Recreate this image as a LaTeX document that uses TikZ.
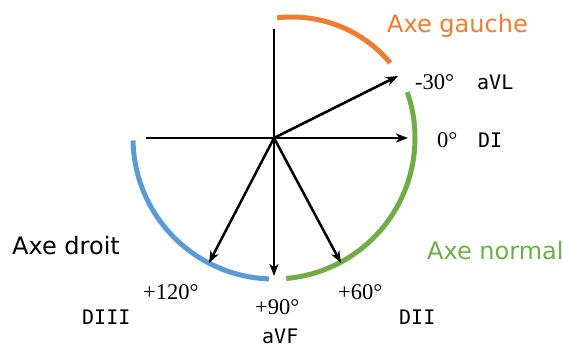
\documentclass[tikz,border=0pt]{standalone}
\usepackage{fontspec}
\setmainfont{Liberation Serif}
\newfontfamily\labfont{DejaVu Sans}
\newfontfamily\leadfont{DejaVu Sans Mono}
\usetikzlibrary{arrows.meta}
\definecolor{axorange}{HTML}{ED7D31}
\definecolor{axblue}{HTML}{5B9BD5}
\definecolor{axgreen}{HTML}{70AD47}
\tikzset{
  axisline/.style={line width=2.5pt, black},
  vec/.style={line width=2.5pt, black, -{Stealth[length=12pt,width=9pt,inset=3.5pt]}},
  arcline/.style={line width=5pt},
  deg/.style={inner sep=0pt, anchor=base west, font=\fontsize{22.5}{24}\selectfont},
  lead/.style={inner sep=0pt, anchor=base west, font=\leadfont\fontsize{20}{22}\selectfont},
  axlabel/.style={inner sep=0pt, anchor=base west, font=\labfont\fontsize{24}{26}\selectfont},
}
\begin{document}
\begin{tikzpicture}[x=1pt,y=1pt]
\useasboundingbox (0,0) rectangle (563,350);
\coordinate (C) at (274,212);
\coordinate (top) at (274,321);
\coordinate (left) at (146,212);
\coordinate (t0) at (408,212);
\coordinate (tm30) at (398,274);
\coordinate (t60) at (341,87);
\coordinate (t90) at (274,74);
\coordinate (t120) at (209,87);
% arcs
\draw[arcline, axblue] (C) ++(181:141) arc[start angle=181, end angle=268, radius=141];
\draw[arcline, axgreen] (C) ++(19:141) arc[start angle=19, end angle=-85, radius=141];
\coordinate (OC) at (292,205);
\draw[arcline, axorange] (OC) ++(96.7:128) arc[start angle=96.7, end angle=39.9, radius=128];
% axes
\draw[axisline] (top) -- (C);
\draw[axisline] (left) -- (C);
\draw[vec] (C) -- (t0);
\draw[vec] (C) -- (tm30);
\draw[vec] (C) -- (t60);
\draw[vec] (C) -- (t90);
\draw[vec] (C) -- (t120);
% labels
\node[axlabel, text=axorange] (lg) at (387,317) {Axe gauche};
\node[axlabel, text=axgreen] (ln) at (427,90) {Axe normal};
\node[axlabel] (ld) at (12,95) {Axe droit};
\node[deg] (dm30) at (415,260) {-30°};
\node[deg] (d0) at (437,202) {0°};
\node[deg] (d120) at (143,50) {+120°};
\node[deg] (d90) at (255,35) {+90°};
\node[deg] (d60) at (338,50) {+60°};
\node[lead] (avl) at (477,260) {aVL};
\node[lead] (di) at (478,202) {DI};
\node[lead] (diii) at (82,25) {DIII};
\node[lead] (dii) at (399,25) {DII};
\node[lead] (avf) at (262,6) {aVF};
\end{tikzpicture}
\end{document}
